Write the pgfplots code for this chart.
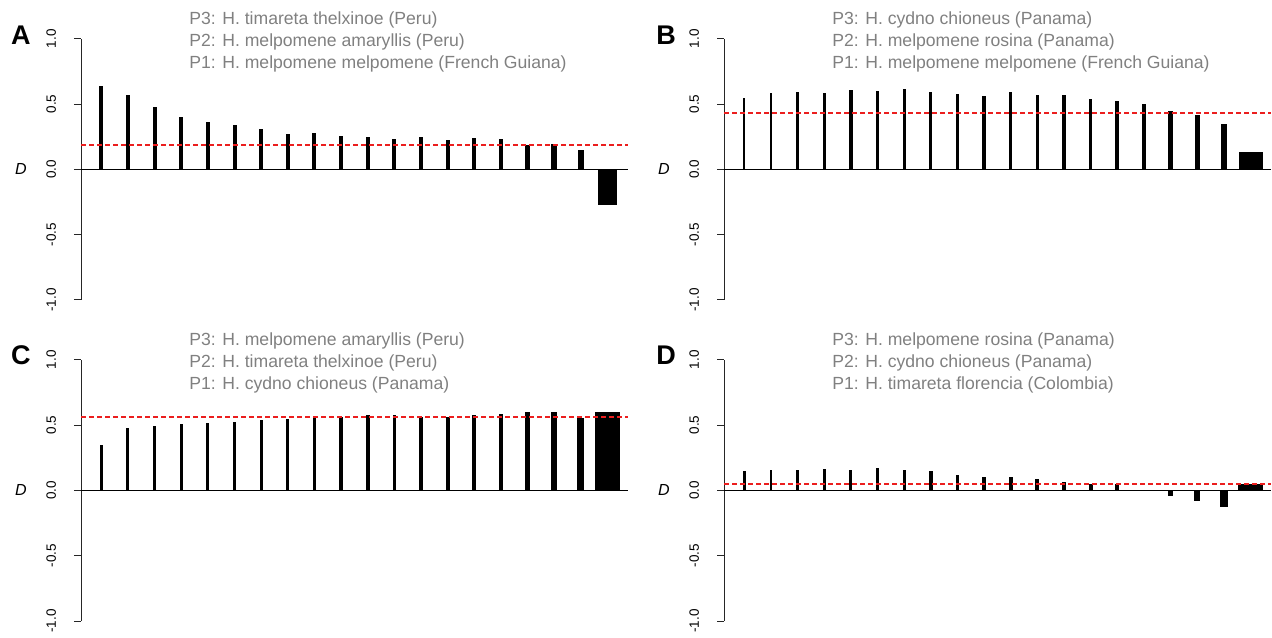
\documentclass[border=0pt]{standalone}
\usepackage{fontspec}
\setmainfont{Liberation Sans}
\usepackage{pgfplots}
\pgfplotsset{compat=1.18}
\definecolor{titlegray}{RGB}{128,128,128}
\definecolor{meanred}{RGB}{235,30,30}
\tikzset{
  ttl/.style={anchor=base west, inner sep=0pt, text=titlegray, font=\fontsize{8.8}{10}\selectfont},
  plab/.style={anchor=base, inner sep=0pt, font=\bfseries\fontsize{13.5}{14}\selectfont},
  dlab/.style={inner sep=0pt, font=\itshape\fontsize{8}{9}\selectfont},
}
\pgfplotsset{
  panel/.style={
    scale only axis, width=273.5pt, height=130.65pt,
    xmin=0.238, xmax=20.77, ymin=-1, ymax=1,
    axis x line=none, axis y line*=left,
    ytick={-1,-0.5,0,0.5,1}, yticklabels={-1.0,-0.5,0.0,0.5,1.0},
    tick align=outside, major tick length=3.5pt,
    tick style={black!85, line width=0.5pt},
    y axis line style={black!85, line width=0.5pt},
    yticklabel style={rotate=90, anchor=south, inner sep=0pt, font=\fontsize{6.75}{8}\selectfont},
    yticklabel shift=8.75pt,
    clip=false, anchor=south west,
  },
  dbar/.style={ybar, bar shift=0pt, fill=black, draw=none},
  zline/.style={black, line width=0.5pt},
  mline/.style={meanred, line width=0.95pt, dash pattern=on 2.25pt off 1.75pt},
}
\begin{document}
\begin{tikzpicture}
\path[use as bounding box] (0,0) rectangle (636pt,318.5pt);

% ---------------- Panel A ----------------
\begin{axis}[panel, at={(40.5pt,168.5pt)}]
\addplot[dbar, bar width=2pt] coordinates {(1,0.635)};
\addplot[dbar, bar width=2pt] coordinates {(2,0.571)};
\addplot[dbar, bar width=2pt] coordinates {(3,0.480)};
\addplot[dbar, bar width=2pt] coordinates {(4,0.403)};
\addplot[dbar, bar width=2pt] coordinates {(5,0.365)};
\addplot[dbar, bar width=2pt] coordinates {(6,0.337)};
\addplot[dbar, bar width=2pt] coordinates {(7,0.311)};
\addplot[dbar, bar width=2pt] coordinates {(8,0.273)};
\addplot[dbar, bar width=2pt] coordinates {(9,0.276)};
\addplot[dbar, bar width=2pt] coordinates {(10,0.255)};
\addplot[dbar, bar width=2pt] coordinates {(11,0.247)};
\addplot[dbar, bar width=2pt] coordinates {(12,0.235)};
\addplot[dbar, bar width=2pt] coordinates {(13,0.250)};
\addplot[dbar, bar width=2pt] coordinates {(14,0.222)};
\addplot[dbar, bar width=2pt] coordinates {(15,0.240)};
\addplot[dbar, bar width=2pt] coordinates {(16,0.232)};
\addplot[dbar, bar width=2.6pt] coordinates {(17,0.186)};
\addplot[dbar, bar width=3.0pt] coordinates {(18,0.191)};
\addplot[dbar, bar width=3.35pt] coordinates {(19,0.145)};
\addplot[dbar, bar width=9.85pt] coordinates {(20,-0.273)};
\addplot[zline] coordinates {(0.238,0) (20.77,0)};
\addplot[mline] coordinates {(0.238,0.184) (20.77,0.184)};
\node[ttl] at (rel axis cs:0.1974,1.054) {P3: H. timareta thelxinoe (Peru)};
\node[ttl] at (rel axis cs:0.1974,0.970) {P2: H. melpomene amaryllis (Peru)};
\node[ttl] at (rel axis cs:0.1974,0.886) {P1: H. melpomene melpomene (French Guiana)};
\node[plab] at (rel axis cs:-0.110,0.978) {A};
\node[dlab] at (rel axis cs:-0.110,0.5) {D};
\end{axis}

% ---------------- Panel B ----------------
\begin{axis}[panel, at={(362pt,168.5pt)}]
\addplot[dbar, bar width=0.9pt] coordinates {(1,0.548)};
\addplot[dbar, bar width=1.1pt] coordinates {(2,0.587)};
\addplot[dbar, bar width=1.3pt] coordinates {(3,0.592)};
\addplot[dbar, bar width=1.45pt] coordinates {(4,0.584)};
\addplot[dbar, bar width=1.65pt] coordinates {(5,0.605)};
\addplot[dbar, bar width=1.65pt] coordinates {(6,0.597)};
\addplot[dbar, bar width=1.65pt] coordinates {(7,0.615)};
\addplot[dbar, bar width=1.65pt] coordinates {(8,0.589)};
\addplot[dbar, bar width=1.65pt] coordinates {(9,0.577)};
\addplot[dbar, bar width=1.65pt] coordinates {(10,0.561)};
\addplot[dbar, bar width=1.65pt] coordinates {(11,0.592)};
\addplot[dbar, bar width=1.65pt] coordinates {(12,0.571)};
\addplot[dbar, bar width=1.65pt] coordinates {(13,0.571)};
\addplot[dbar, bar width=1.8pt] coordinates {(14,0.536)};
\addplot[dbar, bar width=2.0pt] coordinates {(15,0.526)};
\addplot[dbar, bar width=2.35pt] coordinates {(16,0.497)};
\addplot[dbar, bar width=2.35pt] coordinates {(17,0.444)};
\addplot[dbar, bar width=2.65pt] coordinates {(18,0.416)};
\addplot[dbar, bar width=3.15pt] coordinates {(19,0.349)};
\addplot[dbar, bar width=12.0pt] coordinates {(20,0.130)};
\addplot[zline] coordinates {(0.238,0) (20.77,0)};
\addplot[mline] coordinates {(0.238,0.434) (20.77,0.434)};
\node[ttl] at (rel axis cs:0.1974,1.054) {P3: H. cydno chioneus (Panama)};
\node[ttl] at (rel axis cs:0.1974,0.970) {P2: H. melpomene rosina (Panama)};
\node[ttl] at (rel axis cs:0.1974,0.886) {P1: H. melpomene melpomene (French Guiana)};
\node[plab] at (rel axis cs:-0.106,0.978) {B};
\node[dlab] at (rel axis cs:-0.110,0.5) {D};
\end{axis}

% ---------------- Panel C ----------------
\begin{axis}[panel, at={(40.5pt,8pt)}]
\addplot[dbar, bar width=1.2pt] coordinates {(1,0.347)};
\addplot[dbar, bar width=1.45pt] coordinates {(2,0.474)};
\addplot[dbar, bar width=1.5pt] coordinates {(3,0.495)};
\addplot[dbar, bar width=1.5pt] coordinates {(4,0.508)};
\addplot[dbar, bar width=1.5pt] coordinates {(5,0.515)};
\addplot[dbar, bar width=1.65pt] coordinates {(6,0.526)};
\addplot[dbar, bar width=1.65pt] coordinates {(7,0.541)};
\addplot[dbar, bar width=1.65pt] coordinates {(8,0.548)};
\addplot[dbar, bar width=1.65pt] coordinates {(9,0.564)};
\addplot[dbar, bar width=1.85pt] coordinates {(10,0.564)};
\addplot[dbar, bar width=1.85pt] coordinates {(11,0.574)};
\addplot[dbar, bar width=1.85pt] coordinates {(12,0.577)};
\addplot[dbar, bar width=1.85pt] coordinates {(13,0.564)};
\addplot[dbar, bar width=2.0pt] coordinates {(14,0.564)};
\addplot[dbar, bar width=2.0pt] coordinates {(15,0.577)};
\addplot[dbar, bar width=2.25pt] coordinates {(16,0.587)};
\addplot[dbar, bar width=2.65pt] coordinates {(17,0.597)};
\addplot[dbar, bar width=2.85pt] coordinates {(18,0.597)};
\addplot[dbar, bar width=3.45pt] coordinates {(19,0.556)};
\addplot[dbar, bar width=12.85pt] coordinates {(20,0.602)};
\addplot[zline] coordinates {(0.238,0) (20.77,0)};
\addplot[mline] coordinates {(0.238,0.564) (20.77,0.564)};
\node[ttl] at (rel axis cs:0.1974,1.054) {P3: H. melpomene amaryllis (Peru)};
\node[ttl] at (rel axis cs:0.1974,0.970) {P2: H. timareta thelxinoe (Peru)};
\node[ttl] at (rel axis cs:0.1974,0.886) {P1: H. cydno chioneus (Panama)};
\node[plab] at (rel axis cs:-0.110,0.983) {C};
\node[dlab] at (rel axis cs:-0.110,0.5) {D};
\end{axis}

% ---------------- Panel D ----------------
\begin{axis}[panel, at={(362pt,8pt)}]
\addplot[dbar, bar width=1.2pt] coordinates {(1,0.148)};
\addplot[dbar, bar width=1.2pt] coordinates {(2,0.158)};
\addplot[dbar, bar width=1.2pt] coordinates {(3,0.153)};
\addplot[dbar, bar width=1.4pt] coordinates {(4,0.163)};
\addplot[dbar, bar width=1.6pt] coordinates {(5,0.158)};
\addplot[dbar, bar width=1.6pt] coordinates {(6,0.173)};
\addplot[dbar, bar width=1.6pt] coordinates {(7,0.153)};
\addplot[dbar, bar width=1.8pt] coordinates {(8,0.145)};
\addplot[dbar, bar width=1.8pt] coordinates {(9,0.115)};
\addplot[dbar, bar width=2.0pt] coordinates {(10,0.102)};
\addplot[dbar, bar width=2.0pt] coordinates {(11,0.102)};
\addplot[dbar, bar width=2.0pt] coordinates {(12,0.089)};
\addplot[dbar, bar width=2.25pt] coordinates {(13,0.061)};
\addplot[dbar, bar width=2.0pt] coordinates {(14,0.045)};
\addplot[dbar, bar width=2.0pt] coordinates {(15,0.050)};
\addplot[dbar, bar width=2.2pt] coordinates {(16,0.0)};
\addplot[dbar, bar width=2.35pt] coordinates {(17,-0.041)};
\addplot[dbar, bar width=3.0pt] coordinates {(18,-0.082)};
\addplot[dbar, bar width=4.15pt] coordinates {(19,-0.124)};
\addplot[dbar, bar width=12.65pt] coordinates {(20,0.047)};
\addplot[zline] coordinates {(0.238,0) (20.77,0)};
\addplot[mline] coordinates {(0.238,0.052) (20.77,0.052)};
\node[ttl] at (rel axis cs:0.1974,1.054) {P3: H. melpomene rosina (Panama)};
\node[ttl] at (rel axis cs:0.1974,0.970) {P2: H. cydno chioneus (Panama)};
\node[ttl] at (rel axis cs:0.1974,0.886) {P1: H. timareta florencia (Colombia)};
\node[plab] at (rel axis cs:-0.106,0.983) {D};
\node[dlab] at (rel axis cs:-0.110,0.5) {D};
\end{axis}
\end{tikzpicture}
\end{document}
